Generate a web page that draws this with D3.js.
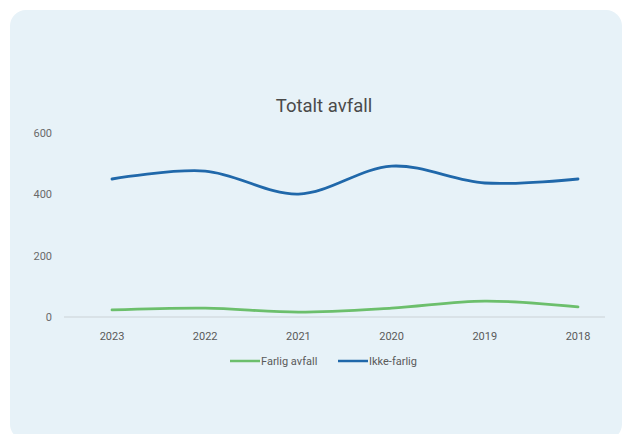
<!DOCTYPE html>
<html><head><meta charset="utf-8">
<script src="https://cdn.jsdelivr.net/npm/d3@7"></script>
<style>html,body{margin:0;padding:0;background:#fff;}svg{display:block;font-family:Roboto,"Noto Sans",sans-serif;}</style>
</head><body><div id="chart"></div>
<script>
const years = ["2023","2022","2021","2020","2019","2018"];
const farligAvfall = [23, 29, 16, 29, 52, 33];
const ikkeFarlig = [450, 476, 401, 492, 437, 450];
const yTicks = [0, 200, 400, 600];
const seriesNames = ["Farlig avfall", "Ikke-farlig"];
const seriesColors = ["#6cbf6c", "#2068aa"];

const W = 626, H = 434;
const svg = d3.select("#chart").append("svg").attr("width", W).attr("height", H);
svg.append("rect").attr("x", 10).attr("y", 10).attr("width", 612).attr("height", 430)
  .attr("rx", 16).attr("fill", "#e7f2f8");

const x = d3.scalePoint().domain(years).range([112, 578]);
const y = d3.scaleLinear().domain([0, 600]).range([317, 133]);

svg.append("text").attr("x", 324).attr("y", 112).attr("text-anchor", "middle")
  .attr("font-size", 18.5).attr("fill", "#4a4a4a").text("Totalt avfall");

// y labels
svg.selectAll(".yt").data(yTicks).enter().append("text")
  .attr("x", 52).attr("y", d => y(d) + 4).attr("text-anchor", "end")
  .attr("font-size", 11).attr("fill", "#6a6a6a").text(d => d);

// baseline
svg.append("line").attr("x1", 64).attr("x2", 605).attr("y1", y(0)).attr("y2", y(0))
  .attr("stroke", "#d4dde2").attr("stroke-width", 1.5);

// x labels
svg.selectAll(".xt").data(years).enter().append("text")
  .attr("x", d => x(d)).attr("y", y(0) + 23).attr("text-anchor", "middle")
  .attr("font-size", 11).attr("fill", "#5a5a5a").text(d => d);

const line = d3.line().x((d, i) => x(years[i])).y(d => y(d)).curve(d3.curveCatmullRom.alpha(0.5));
[farligAvfall, ikkeFarlig].forEach((s, k) => {
  svg.append("path").attr("d", line(s)).attr("fill", "none")
    .attr("stroke", seriesColors[k]).attr("stroke-width", 2.8).attr("stroke-linecap", "round");
});

// legend
const lg = [{x: 230, name: seriesNames[0], c: seriesColors[0]}, {x: 338, name: seriesNames[1], c: seriesColors[1]}];
lg.forEach(l => {
  svg.append("line").attr("x1", l.x).attr("x2", l.x + 30).attr("y1", 361).attr("y2", 361)
    .attr("stroke", l.c).attr("stroke-width", 2.5);
  svg.append("text").attr("x", l.x + 31).attr("y", 365).attr("font-size", 11)
    .attr("fill", "#5a5a5a").text(l.name);
});
</script></body></html>
